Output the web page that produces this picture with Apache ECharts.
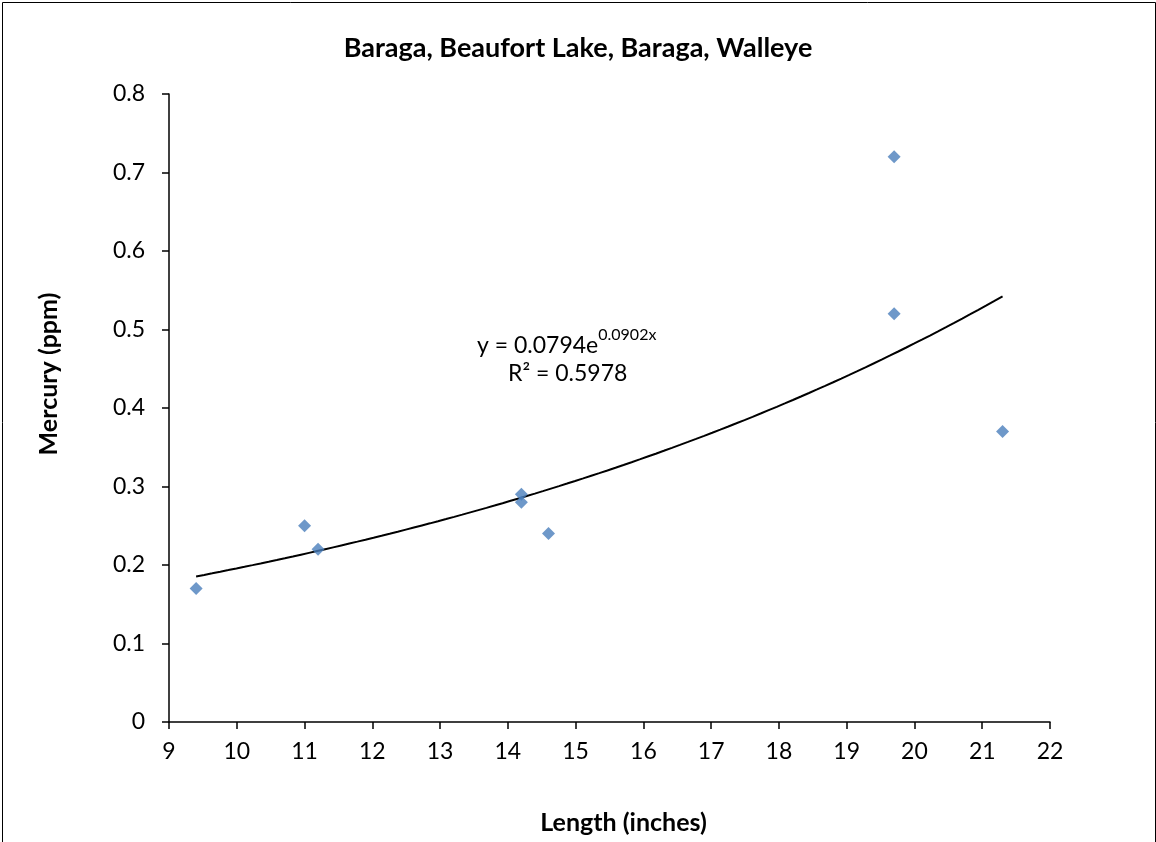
<!DOCTYPE html>
<html>
<head>
<meta charset="utf-8">
<script src="https://cdn.jsdelivr.net/npm/echarts@6/dist/echarts.min.js"></script>
<style>
html,body{margin:0;padding:0;background:#fff;}
#chart{width:1156px;height:842px;}
</style>
</head>
<body>
<div id="chart"></div>
<script>
// Data
var lengths = [9.4, 11.0, 11.2, 14.2, 14.2, 14.6, 19.7, 19.7, 21.3];
var mercury = [0.17, 0.25, 0.22, 0.29, 0.28, 0.24, 0.72, 0.52, 0.37];
// Excel exponential trendline y = a * e^(b x), shown on chart
var trendCoef = [0.0794, 0.0902];
var trendR2 = 0.5978;
var xTicks = [9, 22, 1];
var yTicks = [0, 0.8, 0.1];

var FONT = 'Lato, "Open Sans", sans-serif';
var pts = lengths.map(function (x, i) { return [x, mercury[i]]; });
var xMin = Math.min.apply(null, lengths), xMax = Math.max.apply(null, lengths);
var trend = [];
for (var k = 0; k <= 100; k++) {
  var xx = xMin + (xMax - xMin) * k / 100;
  trend.push([xx, trendCoef[0] * Math.exp(trendCoef[1] * xx)]);
}

var chart = echarts.init(document.getElementById('chart'));
chart.setOption({
  backgroundColor: '#fff',
  animation: false,
  title: {
    text: 'Baraga, Beaufort Lake, Baraga, Walleye',
    left: 'center', top: 30,
    textStyle: { fontFamily: FONT, fontSize: 27, fontWeight: 'bold', color: '#000' }
  },
  grid: { left: 169, right: 106, top: 94, bottom: 120 },
  xAxis: {
    type: 'value', min: xTicks[0], max: xTicks[1], interval: xTicks[2],
    name: 'Length (inches)', nameLocation: 'middle', nameGap: 88,
    nameTextStyle: { fontFamily: FONT, fontSize: 25, fontWeight: 'bold', color: '#000', padding: [0, 0, 0, 28] },
    axisLine: { show: true, onZero: false, lineStyle: { color: '#000', width: 1.5 } },
    axisTick: { show: true, length: 7, lineStyle: { color: '#000', width: 1.5 } },
    axisLabel: { fontFamily: FONT, fontSize: 23, color: '#000', margin: 18 },
    splitLine: { show: false }
  },
  yAxis: {
    type: 'value', min: yTicks[0], max: yTicks[1], interval: yTicks[2],
    name: 'Mercury (ppm)', nameLocation: 'middle', nameGap: 108, nameRotate: 90,
    nameTextStyle: { fontFamily: FONT, fontSize: 25, fontWeight: 'bold', color: '#000', padding: [0, 0, 0, 68] },
    axisLine: { show: true, lineStyle: { color: '#000', width: 1.5 } },
    axisTick: { show: true, length: 7, lineStyle: { color: '#000', width: 1.5 } },
    axisLabel: { fontFamily: FONT, fontSize: 23, color: '#000', margin: 24,
      formatter: function (v) { return Math.round(v * 10) / 10 + ''; } },
    splitLine: { show: false }
  },
  series: [
    {
      type: 'line', data: trend, showSymbol: false, smooth: false,
      lineStyle: { color: '#000', width: 2 }, z: 2, silent: true
    },
    {
      type: 'scatter', data: pts, symbol: 'diamond', symbolSize: 13,
      itemStyle: { color: '#4a7ebb' }, z: 3
    }
  ],
  graphic: [
    {
      type: 'rect', left: 0, top: 0,
      shape: { x: 0.5, y: 0.5, width: 1153, height: 840 },
      style: { fill: 'none', stroke: '#000', lineWidth: 1 }, silent: true
    },
    {
      type: 'text', left: 477, top: 327,
      style: {
        rich: {
          a: { fontFamily: FONT, fontSize: 23, color: '#000', lineHeight: 30, verticalAlign: 'bottom' },
          s: { fontFamily: FONT, fontSize: 16, color: '#000', lineHeight: 30, verticalAlign: 'top' }
        },
        text: '{a|y = ' + trendCoef[0] + 'e}{s|' + trendCoef[1] + 'x}'
      }
    },
    {
      type: 'text', left: 508, top: 362,
      style: { text: 'R² = ' + trendR2, fontFamily: FONT, fontSize: 23, fill: '#000' }
    }
  ]
});
</script>
</body>
</html>
